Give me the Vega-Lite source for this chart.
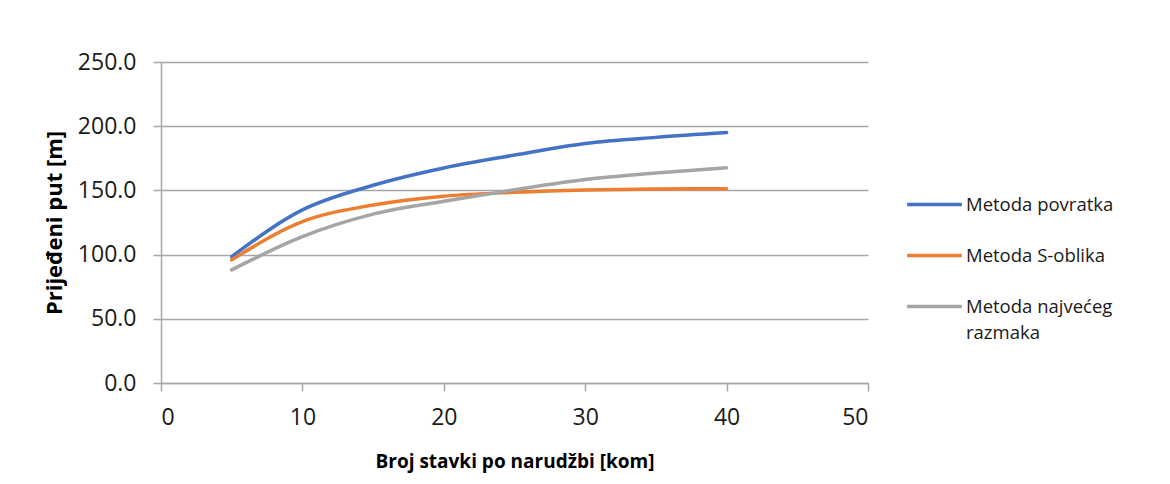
{
  "$schema": "https://vega.github.io/schema/vega-lite/v6.json",
  "width": 707,
  "height": 321,
  "autosize": {"type": "none"},
  "padding": {"left": 161, "top": 62, "right": 302, "bottom": 101},
  "background": "white",
  "data": {
    "values": [
      {"stavke": 5, "metoda": "Metoda povratka", "put": 98.4},
      {"stavke": 10, "metoda": "Metoda povratka", "put": 134.8},
      {"stavke": 15, "metoda": "Metoda povratka", "put": 154.0},
      {"stavke": 20, "metoda": "Metoda povratka", "put": 167.5},
      {"stavke": 25, "metoda": "Metoda povratka", "put": 177.5},
      {"stavke": 30, "metoda": "Metoda povratka", "put": 186.5},
      {"stavke": 35, "metoda": "Metoda povratka", "put": 191.3},
      {"stavke": 40, "metoda": "Metoda povratka", "put": 195.0},
      {"stavke": 5, "metoda": "Metoda S-oblika", "put": 95.9},
      {"stavke": 10, "metoda": "Metoda S-oblika", "put": 125.7},
      {"stavke": 15, "metoda": "Metoda S-oblika", "put": 138.6},
      {"stavke": 20, "metoda": "Metoda S-oblika", "put": 145.5},
      {"stavke": 25, "metoda": "Metoda S-oblika", "put": 148.5},
      {"stavke": 30, "metoda": "Metoda S-oblika", "put": 150.3},
      {"stavke": 35, "metoda": "Metoda S-oblika", "put": 151.1},
      {"stavke": 40, "metoda": "Metoda S-oblika", "put": 151.3},
      {"stavke": 5, "metoda": "Metoda najvećeg razmaka", "put": 88.1},
      {"stavke": 10, "metoda": "Metoda najvećeg razmaka", "put": 114.0},
      {"stavke": 15, "metoda": "Metoda najvećeg razmaka", "put": 131.5},
      {"stavke": 20, "metoda": "Metoda najvećeg razmaka", "put": 141.5},
      {"stavke": 25, "metoda": "Metoda najvećeg razmaka", "put": 150.5},
      {"stavke": 30, "metoda": "Metoda najvećeg razmaka", "put": 158.5},
      {"stavke": 35, "metoda": "Metoda najvećeg razmaka", "put": 163.5},
      {"stavke": 40, "metoda": "Metoda najvećeg razmaka", "put": 167.7}
    ]
  },
  "mark": {"type": "line", "interpolate": "monotone", "strokeWidth": 3.5, "strokeCap": "round"},
  "encoding": {
    "x": {
      "field": "stavke",
      "type": "quantitative",
      "scale": {"domain": [0, 50], "nice": false},
      "axis": {
        "values": [0, 10, 20, 30, 40, 50],
        "title": "Broj stavki po narudžbi [kom]",
        "titleFontSize": 19,
        "grid": false,
        "tickSize": 8,
        "labelPadding": 15,
        "titlePadding": 23
      }
    },
    "y": {
      "field": "put",
      "type": "quantitative",
      "scale": {"domain": [0, 250], "nice": false},
      "axis": {
        "values": [0, 50, 100, 150, 200, 250],
        "format": ".1f",
        "title": "Prijeđeni put [m]",
        "titleFontSize": 22,
        "grid": true,
        "tickSize": 8,
        "labelPadding": 17,
        "titlePadding": 11
      }
    },
    "color": {
      "field": "metoda",
      "type": "nominal",
      "sort": ["Metoda povratka", "Metoda S-oblika", "Metoda najvećeg razmaka"],
      "scale": {
        "domain": ["Metoda povratka", "Metoda S-oblika", "Metoda najvećeg razmaka"],
        "range": ["#4472C4", "#ED7D31", "#A5A5A5"]
      },
      "legend": {
        "title": null,
        "orient": "none",
        "legendX": 744,
        "legendY": 113,
        "symbolType": "stroke",
        "symbolSize": 3000,
        "symbolStrokeWidth": 3.5,
        "labelOffset": 2,
        "rowPadding": 12,
        "labelLimit": 300,
        "labelExpr": "datum.label == 'Metoda najvećeg razmaka' ? ['Metoda najvećeg', 'razmaka'] : datum.label",
        "encode": {
          "labels": {
            "update": {
              "lineHeight": {"value": 26}
            }
          }
        }
      }
    }
  },
  "config": {
    "view": {"stroke": null},
    "font": "Open Sans",
    "axis": {
      "labelFont": "Open Sans",
      "labelFontSize": 23,
      "labelColor": "#1a1a1a",
      "titleFont": "Open Sans",
      "titleFontWeight": "bold",
      "titleColor": "#000000",
      "domainColor": "#a6a6a6",
      "domainWidth": 1.5,
      "tickColor": "#a6a6a6",
      "tickWidth": 1.5,
      "gridColor": "#a6a6a6",
      "gridWidth": 1.5
    },
    "legend": {
      "labelFont": "Open Sans",
      "labelFontSize": 18.5,
      "labelColor": "#1a1a1a"
    }
  }
}
